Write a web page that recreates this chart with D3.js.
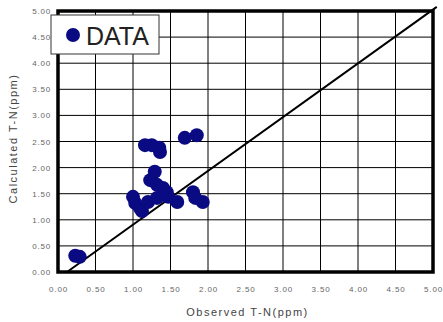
<!DOCTYPE html>
<html>
<head>
<meta charset="utf-8">
<script src="https://cdn.jsdelivr.net/npm/d3@7"></script>
<style>
  body { margin: 0; background: #fff; }
  text { font-family: "Liberation Sans", Arial, sans-serif; }
</style>
</head>
<body>
<div id="chart"></div>
<script>
// observed vs calculated T-N (ppm)
const observed = [1.16, 1.25, 1.35, 1.36, 1.69, 1.85, 1.29, 1.23, 1.32, 1.40, 1.45,
                  1.00, 1.03, 1.09, 1.12, 1.20, 1.32, 1.47, 1.59, 1.80, 1.83, 1.93, 0.23, 0.29];
const calculated = [2.43, 2.43, 2.38, 2.30, 2.57, 2.62, 1.92, 1.76, 1.67, 1.61, 1.53,
                    1.44, 1.32, 1.23, 1.17, 1.34, 1.42, 1.44, 1.34, 1.53, 1.42, 1.34, 0.31, 0.29];
const tickValues = [0, 0.5, 1, 1.5, 2, 2.5, 3, 3.5, 4, 4.5, 5];
const refLine = [[0.12, 0], [5.05, 5.08]];
const legendLabel = "DATA";

const W = 443, H = 322;
const margin = { top: 11, right: 10, bottom: 50, left: 58 },
      width = 433 - margin.left,
      height = 272 - margin.top;

const svg = d3.select("#chart")
    .append("svg")
    .attr("width", W)
    .attr("height", H);

const g = svg.append("g")
    .attr("transform", `translate(${margin.left},${margin.top})`);

const x = d3.scaleLinear().domain([0, 5]).range([0, width]);
const y = d3.scaleLinear().domain([0, 5]).range([height, 0]);

// grid
g.append("g")
    .selectAll("line")
    .data(tickValues)
    .join("line")
    .attr("x1", d => x(d)).attr("x2", d => x(d))
    .attr("y1", 0).attr("y2", height)
    .attr("stroke", "#000").attr("stroke-width", 1);

g.append("g")
    .selectAll("line")
    .data(tickValues)
    .join("line")
    .attr("y1", d => y(d)).attr("y2", d => y(d))
    .attr("x1", 0).attr("x2", width)
    .attr("stroke", "#000").attr("stroke-width", 1);

// tick labels
const fmt = d3.format(".2f");
g.append("g")
    .attr("transform", `translate(0, ${height})`)
    .call(d3.axisBottom(x).tickValues(tickValues).tickFormat(fmt).tickSize(0).tickPadding(14))
    .call(a => a.select(".domain").remove())
    .selectAll("text")
    .attr("fill", "#666")
    .style("font-size", "8px")
    .style("letter-spacing", "0.8px");

g.append("g")
    .call(d3.axisLeft(y).tickValues(tickValues).tickFormat(fmt).tickSize(0).tickPadding(7))
    .call(a => a.select(".domain").remove())
    .selectAll("text")
    .attr("fill", "#666")
    .style("font-size", "8px")
    .style("letter-spacing", "0.8px");

// 1:1 line
g.append("path")
    .datum(refLine)
    .attr("d", d3.line().x(d => x(d[0])).y(d => y(d[1])))
    .attr("stroke", "#000")
    .attr("stroke-width", 2)
    .attr("fill", "none");

// points
const data = observed.map((o, i) => ({ obs: o, calc: calculated[i] }));
g.selectAll(".pt")
    .data(data)
    .join("circle")
    .attr("class", "pt")
    .attr("cx", d => x(d.obs))
    .attr("cy", d => y(d.calc))
    .attr("r", 7)
    .attr("fill", "#0a0a82");

// frame
g.append("rect")
    .attr("x", 0).attr("y", 0)
    .attr("width", width).attr("height", height)
    .attr("fill", "none")
    .attr("stroke", "#000")
    .attr("stroke-width", 3.5);

// legend
const lg = svg.append("g").attr("transform", "translate(51,15)");
lg.append("rect")
    .attr("width", 108).attr("height", 39)
    .attr("fill", "#fff")
    .attr("stroke", "#333")
    .attr("stroke-width", 1);
lg.append("circle")
    .attr("cx", 22).attr("cy", 20).attr("r", 7)
    .attr("fill", "#0a0a82");
lg.append("text")
    .attr("x", 35).attr("y", 30)
    .attr("fill", "#222")
    .style("font-size", "25px")
    .text(legendLabel);

// axis titles
svg.append("text")
    .attr("x", margin.left + width / 2 + 2)
    .attr("y", 316)
    .attr("text-anchor", "middle")
    .attr("fill", "#444")
    .style("font-size", "11px")
    .style("letter-spacing", "1.5px")
    .text("Observed T-N(ppm)");

svg.append("text")
    .attr("transform", `translate(17, ${margin.top + height / 2 - 3}) rotate(-90)`)
    .attr("text-anchor", "middle")
    .attr("fill", "#444")
    .style("font-size", "11px")
    .style("letter-spacing", "1.5px")
    .text("Calculated T-N(ppm)");
</script>
</body>
</html>
